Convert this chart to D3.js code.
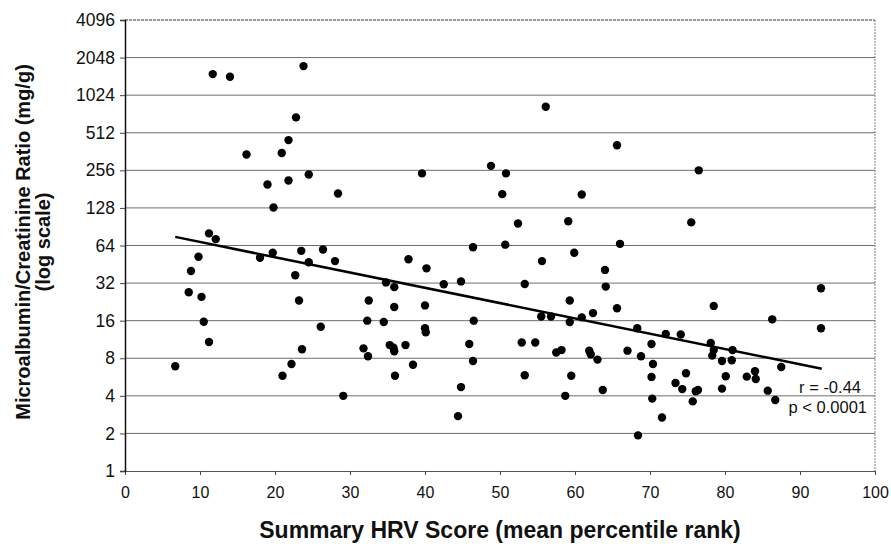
<!DOCTYPE html>
<html>
<head>
<meta charset="utf-8">
<script src="https://cdn.jsdelivr.net/npm/d3@7"></script>
<style>
  body { margin: 0; background: #fff; }
  svg { display: block; font-family: "Liberation Sans", Arial, sans-serif; }
</style>
</head>
<body>
<svg id="chart" width="891" height="544"></svg>
<script>
// Summary HRV score (x) and microalbumin/creatinine ratio in mg/g (y)
const hrvScore = [
  6.7, 8.5, 8.8, 9.8, 10.2, 10.5, 11.2, 11.2, 12.1, 11.7,
  14.0, 16.2, 18.0, 19.0, 19.7, 19.8, 20.9, 21.0, 21.8, 21.8,
  22.2, 22.7, 22.8, 23.2, 23.5, 23.6, 23.8, 24.5, 24.5, 26.1,
  26.4, 28.0, 28.4, 29.1, 31.8, 32.3, 32.4, 32.5, 34.5, 34.8,
  35.3, 35.8, 35.9, 35.9, 35.9, 36.0, 37.4, 37.8, 38.4, 39.6,
  40.0, 40.1, 40.0, 40.2, 42.5, 44.4, 44.8, 44.8, 45.9, 46.4,
  46.4, 46.5, 48.8, 50.3, 50.7, 50.8, 52.4, 52.9, 53.3, 53.3,
  54.7, 55.5, 55.6, 56.1, 56.8, 57.5, 58.2, 58.7, 59.1, 59.3,
  59.3, 59.5, 59.9, 60.9, 60.9, 61.9, 62.1, 62.4, 63.0, 63.7,
  64.0, 64.1, 65.6, 65.6, 66.0, 67.0, 68.3, 68.4, 68.8, 70.2,
  70.4, 70.2, 70.3, 71.6, 72.1, 73.4, 74.1, 74.3, 74.8, 75.5,
  75.7, 76.1, 76.4, 76.5, 78.1, 78.3, 78.5, 78.5, 79.6, 79.6,
  80.1, 80.9, 81.0, 82.9, 84.0, 84.1, 85.7, 86.3, 86.7, 87.5,
  92.8, 92.8
];
const ratio = [
  6.9, 27, 40, 52, 24.8, 15.7, 10.8, 80, 72, 1510,
  1440, 343, 51, 197, 56, 129, 352, 5.8, 447, 212,
  7.2, 37, 680, 23.2, 58, 9.45, 1750, 47, 237, 14.3,
  59.5, 48, 167, 4.0, 9.6, 16, 8.3, 23.2, 15.6, 32.4,
  10.2, 9.7, 9.1, 29.7, 20.6, 5.8, 10.2, 49.6, 7.1, 242,
  13.9, 12.9, 21.2, 42, 31.3, 2.75, 4.7, 33, 10.4, 7.6,
  62, 16, 278, 165, 65, 242, 96, 10.7, 5.85, 31.5,
  10.7, 17.3, 48, 827, 17.3, 8.9, 9.3, 4.0, 100, 23.2,
  15.6, 5.8, 56, 17, 164, 9.2, 8.6, 18.4, 7.8, 4.46,
  40.8, 30, 20.1, 407, 66, 9.2, 13.9, 1.93, 8.3, 10.4,
  7.2, 5.67, 3.8, 2.68, 12.5, 5.07, 12.4, 4.53, 6.07, 98,
  3.61, 4.35, 4.45, 256, 10.6, 8.4, 9.3, 21, 7.6, 4.57,
  5.74, 7.7, 9.3, 5.7, 6.3, 5.45, 4.4, 16.4, 3.7, 6.8,
  29.1, 13.9
];

// regression line end points
const fitX = [6.7, 92.9];
const fitY = [75, 6.6];

const xTicks = [0, 10, 20, 30, 40, 50, 60, 70, 80, 90, 100];
const yTicks = [1, 2, 4, 8, 16, 32, 64, 128, 256, 512, 1024, 2048, 4096];
const statLines = ['r = -0.44', 'p < 0.0001'];

const width = 891;
const height = 544;
const margin = { top: 20, right: 16, bottom: 73, left: 125 };
const plotW = width - margin.left - margin.right;
const plotH = height - margin.top - margin.bottom;

const svg = d3.select('#chart');
const g = svg.append('g')
  .attr('transform', 'translate(' + margin.left + ',' + margin.top + ')');

const x = d3.scaleLinear().domain([0, 100]).range([0, plotW]);
const y = d3.scaleLog().base(2).domain([1, 4096]).range([plotH, 0]);

// horizontal grid lines
g.append('g')
  .selectAll('line')
  .data(yTicks.filter(d => d > 1 && d < 4096))
  .join('line')
  .attr('x1', 0)
  .attr('x2', plotW)
  .attr('y1', d => y(d))
  .attr('y2', d => y(d))
  .attr('stroke', '#6e6e6e')
  .attr('stroke-width', 1);

// top and right frame
g.append('line')
  .attr('x1', 0).attr('x2', plotW)
  .attr('y1', y(4096)).attr('y2', y(4096))
  .attr('stroke', '#333')
  .attr('stroke-width', 1)
  .attr('stroke-dasharray', '3,1');
g.append('line')
  .attr('x1', plotW).attr('x2', plotW)
  .attr('y1', 0).attr('y2', plotH)
  .attr('stroke', '#777')
  .attr('stroke-width', 1)
  .attr('stroke-dasharray', '2,1');

// x axis
const xAxis = g.append('g')
  .attr('transform', 'translate(0,' + plotH + ')')
  .call(d3.axisBottom(x).tickValues(xTicks).tickSize(4).tickPadding(12).tickFormat(d3.format('d')));
xAxis.select('.domain').attr('stroke', '#555');
xAxis.selectAll('.tick line').attr('stroke', '#444');
xAxis.selectAll('text')
  .attr('font-size', '16px')
  .attr('font-family', '"Liberation Sans", Arial, sans-serif')
  .attr('fill', '#111');

// y axis
const yAxis = g.append('g')
  .call(d3.axisLeft(y).tickValues(yTicks).tickSize(5).tickPadding(5).tickFormat(d3.format('d')));
yAxis.select('.domain').attr('stroke', '#111').attr('stroke-width', 1.5);
yAxis.selectAll('.tick line').attr('stroke', '#444');
yAxis.selectAll('text')
  .attr('font-size', '17.5px')
  .attr('font-family', '"Liberation Sans", Arial, sans-serif')
  .attr('fill', '#111');

// points
g.append('g')
  .selectAll('circle')
  .data(hrvScore.map((d, i) => ({ x: d, y: ratio[i] })))
  .join('circle')
  .attr('cx', d => x(d.x))
  .attr('cy', d => y(d.y))
  .attr('r', 4.2)
  .attr('fill', '#000');

// regression line
g.append('path')
  .datum(fitX.map((d, i) => ({ x: d, y: fitY[i] })))
  .attr('fill', 'none')
  .attr('stroke', '#000')
  .attr('stroke-width', 2.5)
  .attr('d', d3.line().x(d => x(d.x)).y(d => y(d.y)));

// r / p annotation
g.append('g')
  .selectAll('text')
  .data(statLines)
  .join('text')
  .attr('x', (d, i) => plotW - (i === 0 ? 14 : 8))
  .attr('y', (d, i) => y(4) - 3 + i * 20)
  .attr('text-anchor', 'end')
  .attr('font-size', '16.5px')
  .attr('fill', '#111')
  .text(d => d);

// axis titles
svg.append('text')
  .attr('x', margin.left + plotW / 2)
  .attr('y', 538)
  .attr('text-anchor', 'middle')
  .attr('font-size', '23px')
  .attr('font-weight', 'bold')
  .attr('fill', '#111')
  .text('Summary HRV Score (mean percentile rank)');

const yTitle = svg.append('text')
  .attr('transform', 'translate(0,242) rotate(-90)')
  .attr('text-anchor', 'middle')
  .attr('font-size', '20px')
  .attr('font-weight', 'bold')
  .attr('fill', '#111');
yTitle.append('tspan').attr('x', 0).attr('y', 30).text('Microalbumin/Creatinine Ratio (mg/g)');
yTitle.append('tspan').attr('x', 0).attr('y', 50).text('(log scale)');
</script>
</body>
</html>
